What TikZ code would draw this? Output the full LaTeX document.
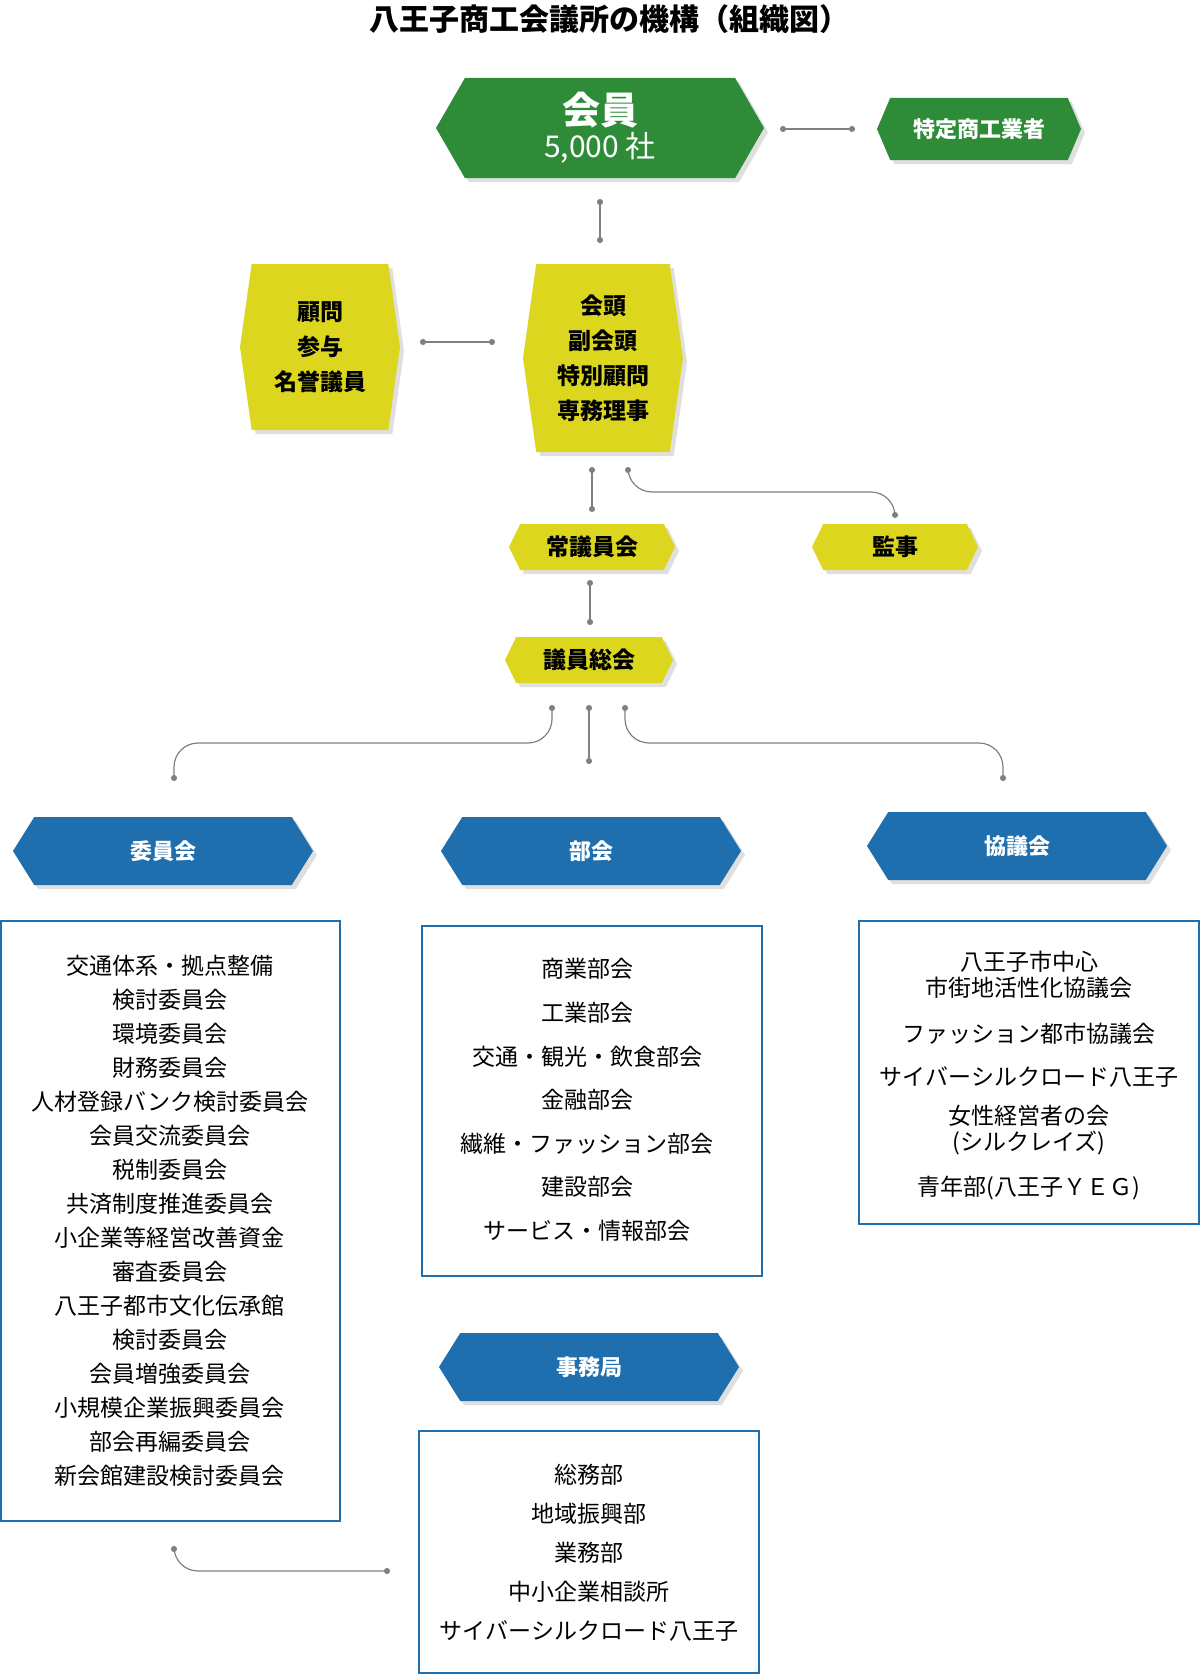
\documentclass[tikz,border=0pt]{standalone}
\usepackage{fontspec}
\setmainfont{Noto Sans CJK JP}
\usepackage{xcolor}
\usetikzlibrary{arrows.meta,shapes.symbols,shadows}
\definecolor{kgreen}{HTML}{2E8C38}
\definecolor{kyellow}{HTML}{DCD61E}
\definecolor{kblue}{HTML}{1F6FAF}
\definecolor{kline}{HTML}{808080}
\tikzset{
  hexa/.style={shape=signal, signal to=east and west, inner sep=0pt,
    drop shadow={opacity=0.25, shadow xshift=2pt, shadow yshift=-2pt}, font=\bfseries},
  green/.style={hexa, fill=kgreen, text=white},
  yellow/.style={hexa, fill=kyellow, text=black},
  blue/.style={hexa, fill=kblue, text=white, font=\bfseries\fontsize{11}{13}\selectfont},
  listbox/.style={draw=kblue, line width=1.2pt, fill=white},
  link/.style={kline, line width=0.6pt, {Circle[length=3pt]}-{Circle[length=3pt]}, rounded corners=12pt},
  item/.style={font=\fontsize{11.5}{13}\selectfont, align=center}
}
\begin{document}
\begin{tikzpicture}[x=0.5pt,y=-0.5pt]
  \useasboundingbox (0,0) rectangle (1200,1675);
  \node[font=\bfseries\fontsize{15}{17}\selectfont] (title) at (609,19) {八王子商工会議所の機構（組織図）};
  % top
  \node[green, minimum width=164pt, minimum height=50pt, signal pointer angle=120, align=center] (kaiin) at (600,128)
    {{\fontsize{19}{22}\selectfont 会員}\\[1pt]{\fontsize{15}{17}\selectfont\mdseries 5,000 社}};
  \node[green, minimum width=102pt, minimum height=31pt, signal pointer angle=134, font=\bfseries\fontsize{11}{13}\selectfont] (tokutei) at (979,129) {特定商工業者};
  \node[yellow, minimum width=80pt, minimum height=83pt, signal pointer angle=164, align=center, font=\bfseries\fontsize{11.5}{17.5}\selectfont] (komon) at (320,347) {顧問\\参与\\名誉議員};
  \node[yellow, minimum width=80pt, minimum height=94pt, signal pointer angle=164, align=center, font=\bfseries\fontsize{11.5}{17.5}\selectfont] (kaito) at (603,358) {会頭\\副会頭\\特別顧問\\専務理事};
  \node[yellow, minimum width=83pt, minimum height=23pt, signal pointer angle=128, font=\bfseries\fontsize{11.5}{13}\selectfont] (jogiin) at (592,547) {常議員会};
  \node[yellow, minimum width=83pt, minimum height=23pt, signal pointer angle=128, font=\bfseries\fontsize{11.5}{13}\selectfont] (kanji) at (895,547) {監事};
  \node[yellow, minimum width=84pt, minimum height=23pt, signal pointer angle=128, font=\bfseries\fontsize{11.5}{13}\selectfont] (sokai) at (589,660) {議員総会};
  % blue heads
  \node[blue, minimum width=150pt, minimum height=34pt, signal pointer angle=116] (iinkai) at (163,851) {委員会};
  \node[blue, minimum width=150pt, minimum height=34pt, signal pointer angle=116] (bukai) at (591,851) {部会};
  \node[blue, minimum width=150pt, minimum height=34pt, signal pointer angle=116] (kyogikai) at (1017,846) {協議会};
  \node[blue, minimum width=150pt, minimum height=34pt, signal pointer angle=116] (jimukyoku) at (589,1367) {事務局};
  % connectors
  \coordinate (c1) at (780,129); \coordinate (c2) at (855,129);
  \draw[link] (c1) -- (c2);
  \coordinate (c3) at (600,199); \coordinate (c4) at (600,243);
  \draw[link] (c3) -- (c4);
  \coordinate (c5) at (420,342); \coordinate (c6) at (495,342);
  \draw[link] (c5) -- (c6);
  \coordinate (c7) at (592,467); \coordinate (c8) at (592,512);
  \draw[link] (c7) -- (c8);
  \coordinate (c9) at (628,467); \coordinate (c10) at (895,512);
  \draw[link] (c9) -- (628,492) -- (895,492) -- (c10);
  \coordinate (c11) at (590,580); \coordinate (c12) at (590,625);
  \draw[link] (c11) -- (c12);
  \coordinate (s1) at (552,705); \coordinate (s2) at (589,705); \coordinate (s3) at (625,705);
  \coordinate (e1) at (174,781); \coordinate (e2) at (589,764); \coordinate (e3) at (1003,781);
  \draw[link] (s1) -- (552,743) -- (174,743) -- (e1);
  \draw[link] (s2) -- (e2);
  \draw[link] (s3) -- (625,743) -- (1003,743) -- (e3);
  \coordinate (b1) at (174,1546); \coordinate (b2) at (390,1571);
  \draw[link] (b1) -- (174,1571) -- (b2);
  % lists
  \draw[listbox] (1,921) rectangle (340,1521);
  \node[item, font=\fontsize{11.5}{17}\selectfont] (iinlist) at (170,1221) {交通体系・拠点整備\\検討委員会\\環境委員会\\財務委員会\\人材登録バンク検討委員会\\会員交流委員会\\税制委員会\\共済制度推進委員会\\小企業等経営改善資金\\審査委員会\\八王子都市文化伝承館\\検討委員会\\会員増強委員会\\小規模企業振興委員会\\部会再編委員会\\新会館建設検討委員会};
  \draw[listbox] (422,926) rectangle (762,1276);
  \node[item, font=\fontsize{11.5}{21.8}\selectfont] (bulist) at (587,1100) {商業部会\\工業部会\\交通・観光・飲食部会\\金融部会\\繊維・ファッション部会\\建設部会\\サービス・情報部会};
  \draw[listbox] (859,921) rectangle (1199,1224);
  \node[item] (k1) at (1029,975) {八王子市中心\\市街地活性化協議会};
  \node[item] (k2) at (1029,1034) {ファッション都市協議会};
  \node[item] (k3) at (1029,1077) {サイバーシルクロード八王子};
  \node[item] (k4) at (1029,1130) {女性経営者の会\\(シルクレイズ)};
  \node[item] (k5) at (1029,1188) {青年部(八王子ＹＥＧ)};
  \draw[listbox] (419,1431) rectangle (759,1673);
  \node[item, font=\fontsize{11.5}{19.5}\selectfont] (jimulist) at (589,1553) {総務部\\地域振興部\\業務部\\中小企業相談所\\サイバーシルクロード八王子};
\end{tikzpicture}
\end{document}
